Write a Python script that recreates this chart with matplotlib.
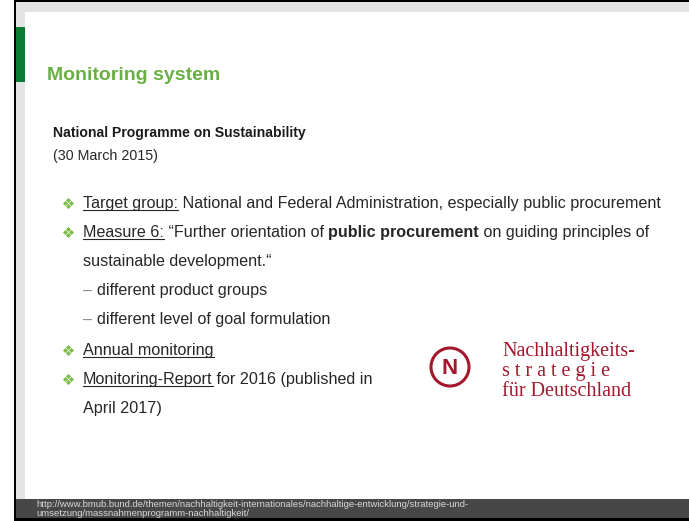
import matplotlib.pyplot as plt
from matplotlib.patches import Rectangle, Circle

W, H = 689, 521

title = "Monitoring system"
heading = "National Programme on Sustainability"
date_line = "(30 March 2015)"

# one entry per text line: (has_bullet, indent, runs)
# a run is (text, bold, underline, color)
TXT = "#262626"
DASH = "#8c8c8c"
lines = [
    (True, 83, [("Target group:", False, True, TXT),
                (" National and Federal Administration, especially public procurement", False, False, TXT)]),
    (True, 83, [("Measure 6:", False, True, TXT),
                (" \u201cFurther orientation of ", False, False, TXT),
                ("public procurement", True, False, TXT),
                (" on guiding principles of", False, False, TXT)]),
    (False, 83, [("sustainable development.\u201c", False, False, TXT)]),
    (False, 83, [("\u2013 ", False, False, DASH), ("different product groups", False, False, TXT)]),
    (False, 83, [("\u2013 ", False, False, DASH), ("different level of goal formulation", False, False, TXT)]),
    (True, 83, [("Annual monitoring", False, True, TXT)]),
    (True, 83, [("Monitoring-Report", False, True, TXT),
                (" for 2016 (published in", False, False, TXT)]),
    (False, 83, [("April 2017)", False, False, TXT)]),
]
baselines = [208, 237, 266, 295, 324, 355, 384, 413]

logo_lines = ["Nachhaltigkeits-", "s t r a t e g i e", "f\u00fcr Deutschland"]
logo_baselines = [356, 376, 396]

url_lines = ["http://www.bmub.bund.de/themen/nachhaltigkeit-internationales/nachhaltige-entwicklung/strategie-und-",
             "umsetzung/massnahmenprogramm-nachhaltigkeit/"]

SANS = "Liberation Sans"
SERIF = "Liberation Serif"
LOGO_RED = "#a3182d"

fig = plt.figure(figsize=(W / 100, H / 100), dpi=100)
ax = fig.add_axes([0, 0, 1, 1])
ax.set_xlim(0, W)
ax.set_ylim(H, 0)
ax.axis("off")

# slide frame
ax.add_patch(Rectangle((14, 0), W - 14, H, color="black", lw=0))
ax.add_patch(Rectangle((16, 2), W - 16, H - 5, color="#e4e4e4", lw=0))
ax.add_patch(Rectangle((25, 12), W - 25, 487, color="white", lw=0))
ax.add_patch(Rectangle((16, 27), 9, 55, color="#0b7a33", lw=0))
ax.add_patch(Rectangle((16, 499), W - 16, 19, color="#474747", lw=0))

fig.canvas.draw()
renderer = fig.canvas.get_renderer()


def draw_runs(x, y, runs, size=11.65):
    for text, bold, underline, color in runs:
        t = ax.text(x, y, text, fontsize=size, family=SANS, color=color,
                    fontweight="bold" if bold else "normal", va="baseline", ha="left")
        w = t.get_window_extent(renderer).width
        if underline:
            stripped = text.rstrip()
            w_u = w if stripped == text else ax.text(0, 0, stripped, fontsize=size, family=SANS).get_window_extent(renderer).width
            ax.plot([x, x + w_u], [y + 2, y + 2], color=color, lw=0.8)
        x += w


def bullet(x, y):
    d = 3
    for dx, dy in [(0, -d), (d, 0), (0, d), (-d, 0)]:
        ax.plot(x + dx, y + dy, marker="D", ms=2.6, color="#7dbb4a", mew=0)


ax.text(47, 80, title, fontsize=14, fontweight="bold", family=SANS, color="#6aaf45", va="baseline")
ax.text(53, 137, heading, fontsize=10.1, fontweight="bold", family=SANS, color="#1a1a1a", va="baseline")
ax.text(53, 160, date_line, fontsize=10.3, family=SANS, color=TXT, va="baseline")

for (has_bullet, x0, runs), yb in zip(lines, baselines):
    if has_bullet:
        bullet(68, yb - 5)
    draw_runs(x0, yb, runs)

# logo
ax.add_patch(Circle((450, 367), 19, fill=False, ec=LOGO_RED, lw=2.2))
ax.text(450, 368, "N", fontsize=16, fontweight="bold", family=SANS, color=LOGO_RED, ha="center", va="center")
for s, yb in zip(logo_lines, logo_baselines):
    ax.text(502, yb, s, fontsize=14.5, family=SERIF, color=LOGO_RED, va="baseline")

for s, yb in zip(url_lines, [507, 516]):
    ax.text(36, yb, s, fontsize=6.8, family=SANS, color="#d8d8d8", va="baseline")

fig.savefig("out.png", dpi=100)
